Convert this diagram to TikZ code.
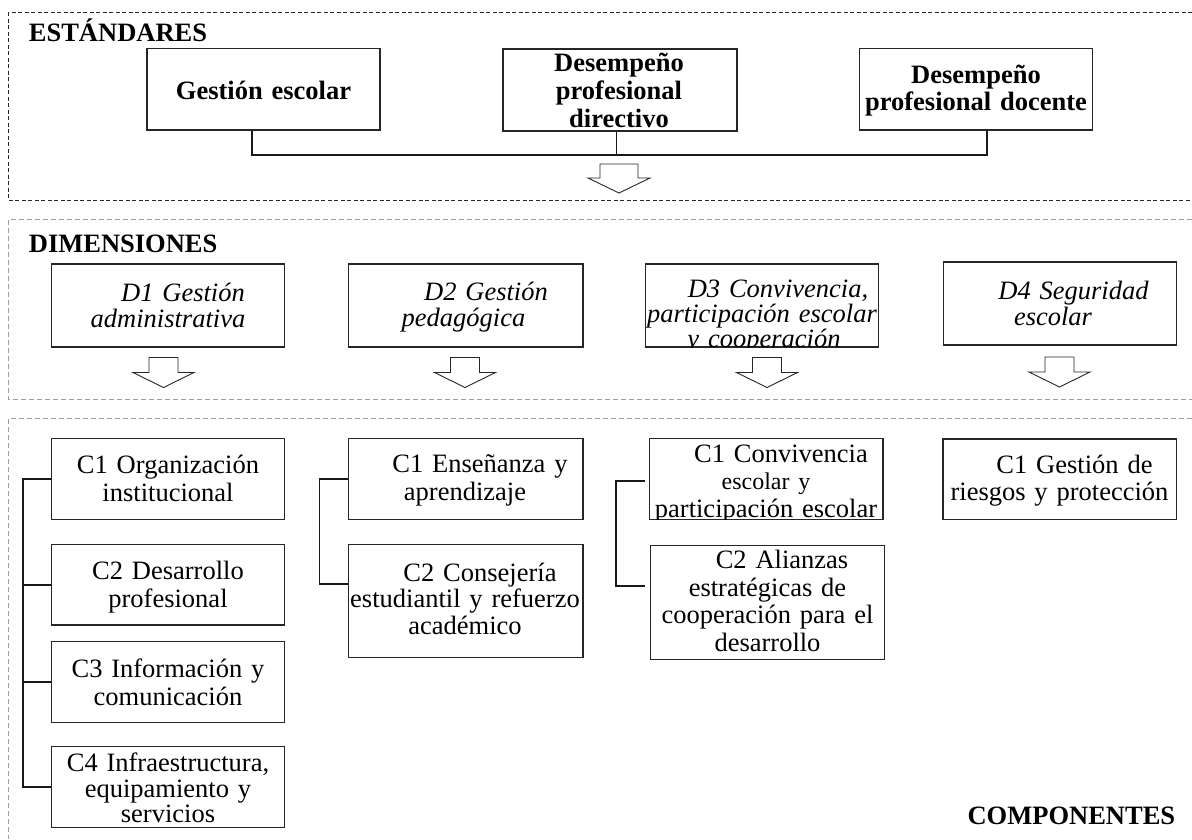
\documentclass[tikz,border=0pt]{standalone}
\usepackage{fontspec}
\setmainfont{Liberation Serif}
\newcommand\topstr{\rule{0pt}{20pt}}
\newcommand\botstr{\rule[-6pt]{0pt}{6pt}}
\newcommand\blkarrow[6]{\draw[arrowst] ({#1-#2},#4) -- ({#1-#2},#5) -- ({#1-#3},#5) -- (#1,#6) -- ({#1+#3},#5) -- ({#1+#2},#5) -- ({#1+#2},#4) -- cycle;}
\begin{document}
\begin{tikzpicture}[x=1pt,y=-1pt,
  boxst/.style={draw=black!85, line width=1.1pt, inner sep=0pt, minimum width=233pt},
  conn/.style={draw=black!90, line width=1.8pt},
  arrowst/.style={draw=black!85, line width=0.9pt, fill=white, line join=miter},
  frameA/.style={draw=black!85, line width=0.9pt, dash pattern=on 4pt off 2.5pt},
  frameB/.style={draw=black!38, line width=1pt, dash pattern=on 5pt off 3pt},
  txtb/.style={inner sep=0pt, text width=300pt, align=center, font=\fontsize{26.5}{27.7}\selectfont\bfseries},
  txti/.style={inner sep=0pt, text width=300pt, align=center, font=\fontsize{26.5}{26}\selectfont\itshape},
  txtr/.style={inner sep=0pt, text width=300pt, align=center, font=\fontsize{26.5}{27.7}\selectfont},
  title/.style={inner sep=0pt, font=\fontsize{26.5}{28}\selectfont\bfseries}]
\useasboundingbox (0,0) rectangle (1192,839);
\fill[white] (0,0) rectangle (1192,839);

% frames
\draw[frameA] (1192,12.7) -- (8.4,12.7) -- (8.4,200) -- (1192,200);
\draw[frameB] (1192,219.3) -- (8.4,219.3) -- (8.4,399.5) -- (1192,399.5);
\draw[frameB] (1192,418.7) -- (8.4,418.7) -- (8.4,839);

% titles
\node[title, anchor=base west] (est) at (28.7,41.7) {ESTÁNDARES};
\node[title, anchor=base west] (dim) at (28.7,252) {DIMENSIONES};
\node[title, anchor=base east] (comp) at (1175.4,824.3) {COMPONENTES};

% standards boxes
\node[boxst, minimum height=81.7pt] (ge) at (263.5,89.15) {};
\node[boxst, minimum width=234pt, minimum height=82pt] (dd) at (620,90) {};
\node[boxst, minimum height=81.7pt] (doc) at (976,89.15) {};
\node[txtb] (ge-t) at (263.5,92) {\topstr Gestión escolar\botstr};
\node[txtb] (dd-t) at (619,92.4) {\topstr Desempeño\\profesional\\directivo\botstr};
\node[txtb] (doc-t) at (976,89.85) {\topstr Desempeño\\profesional docente\botstr};

\coordinate (busL) at (251.8,155);
\coordinate (busM) at (616.5,155);
\coordinate (busR) at (987,155);
\draw[conn] (ge.south -| busL) -- (busL) -- (busR) -- (doc.south -| busR);
\draw[conn] (dd.south -| busM) -- (busM);
\blkarrow{619}{19}{31}{164}{178}{193}

% dimension boxes
\node[boxst, minimum height=83pt] (d1) at (168.1,305.5) {};
\node[boxst, minimum width=234.5pt, minimum height=83pt] (d2) at (465.75,305.5) {};
\node[boxst, minimum height=83pt] (d3) at (762.35,305.5) {};
\node[boxst, minimum height=83pt] (d4) at (1059.8,303.5) {};
\node[txti] (d1-t) at (168,307) {\hspace*{30pt}\topstr D1 Gestión\\administrativa\botstr};
\node[txti] (d2-t) at (463.5,306.7) {\hspace*{45pt}\topstr D2 Gestión\\pedagógica\botstr};
\begin{scope}
\clip (d3.north west) rectangle (d3.south east);
\node[txti, font=\fontsize{26.5}{24.85}\selectfont\itshape] (d3-t) at (762,315.15) {\hspace*{32pt}\topstr D3 Convivencia,\\participación escolar\\\hspace*{4pt}y cooperación\botstr};
\end{scope}
\node[txti] (d4-t) at (1053,305) {\hspace*{41pt}\topstr D4 Seguridad\\escolar\botstr};

\blkarrow{163.5}{14.5}{30.5}{357.5}{372.5}{387.5}
\blkarrow{465}{14.5}{30.5}{357.5}{372.5}{387.5}
\blkarrow{767}{14.5}{30.5}{357.5}{372.5}{387.5}
\blkarrow{1059.5}{14.5}{30.5}{357}{372}{387}

% component boxes
\node[boxst, minimum height=80.8pt] (c1) at (168.35,478.9) {};
\node[boxst, minimum height=80.7pt] (c2) at (168.35,584.65) {};
\node[boxst, minimum height=80.6pt] (c3) at (168.35,682) {};
\node[boxst, minimum height=80.6pt] (c4) at (168.35,787) {};
\node[boxst, minimum width=234.5pt, minimum height=80.8pt] (e1) at (465.75,478.9) {};
\node[boxst, minimum width=234.5pt, minimum height=113.4pt] (e2) at (465.75,601) {};
\node[boxst, minimum width=233.5pt, minimum height=80.8pt] (v1) at (766.25,478.9) {};
\node[boxst, minimum width=234.1pt, minimum height=113.6pt] (v2) at (767.35,602.5) {};
\node[boxst, minimum width=233.6pt, minimum height=80.3pt] (r1) at (1059.8,479.15) {};

\node[txtr] (c1-t) at (168,480.15) {\topstr C1 Organización\\institucional\botstr};
\node[txtr] (c2-t) at (168,586.35) {\topstr C2 Desarrollo\\profesional\botstr};
\node[txtr] (c3-t) at (168,684.15) {\topstr C3 Información y\\comunicación\botstr};
\begin{scope}
\clip (c4.north west) rectangle (c4.south east);
\node[txtr, font=\fontsize{26.5}{25.5}\selectfont] (c4-t) at (168,790.2) {\topstr C4 Infraestructura,\\equipamiento y\\servicios\botstr};
\end{scope}
\node[txtr] (e1-t) at (465,479.5) {\hspace*{30pt}\topstr C1 Enseñanza y\\aprendizaje\botstr};
\node[txtr, font=\fontsize{26.5}{26.15}\selectfont] (e2-t) at (465,600.85) {\hspace*{30pt}\topstr C2 Consejería\\estudiantil y refuerzo\\académico\botstr};
\begin{scope}
\clip (v1.north west) rectangle (v1.south east);
\node[txtr, font=\fontsize{26.5}{27.5}\selectfont] (v1-t) at (766,482.8) {\hspace*{30pt}\topstr C1 Convivencia\\{\fontsize{24}{27.5}\selectfont escolar y}\\participación escolar\botstr};
\end{scope}
\node[txtr, font=\fontsize{26.5}{27.8}\selectfont] (v2-t) at (767.5,603) {\hspace*{29pt}\topstr C2 Alianzas\\estratégicas de\\cooperación para el\\desarrollo\botstr};
\node[txtr] (r1-t) at (1059.5,480) {\hspace*{30pt}\topstr C1 Gestión de\\riesgos y protección\botstr};

% component connectors
\coordinate (sp1) at (23,0);
\draw[conn] (c1.west) -- (c1.west -| sp1) -- (c4.west -| sp1) -- (c4.west);
\draw[conn] (c2.west) -- (c2.west -| sp1);
\draw[conn] (c3.west) -- (c3.west -| sp1);

\coordinate (sp2) at (319.5,0);
\coordinate (e2in) at ([yshift=16.7pt]e2.west);
\draw[conn] (e1.west) -- (e1.west -| sp2) -- (e2in -| sp2) -- (e2in);

\coordinate (sp3) at (616,0);
\coordinate (v1in) at ([yshift=-2.1pt]v1.west);
\coordinate (v2in) at ([yshift=16.8pt]v2.west);
\draw[conn, shorten <=4pt, shorten >=4.5pt] (v1in) -- (v1in -| sp3) -- (v2in -| sp3) -- (v2in);
\end{tikzpicture}
\end{document}
